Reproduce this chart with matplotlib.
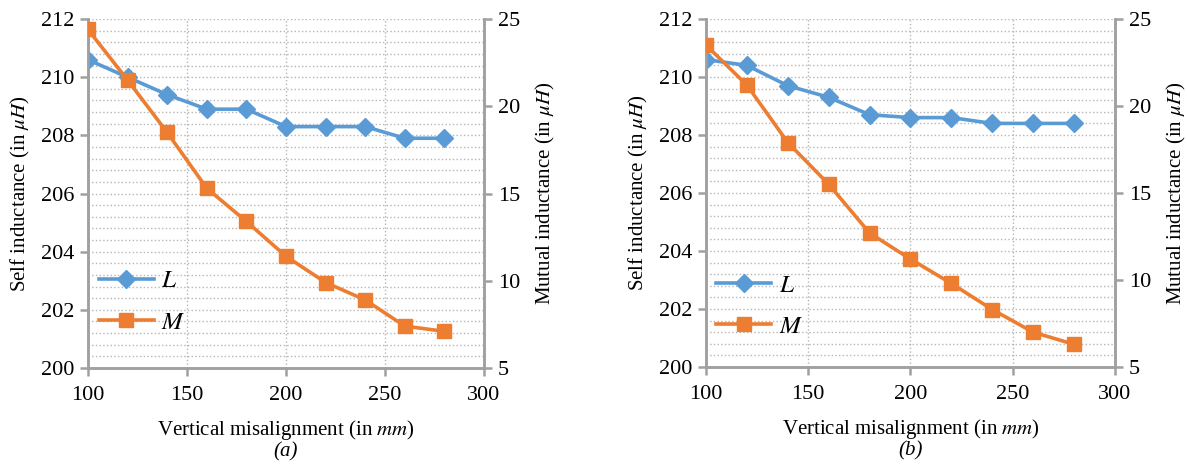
import numpy as np
import matplotlib
matplotlib.use("Agg")
from matplotlib import pyplot as plt
from matplotlib.ticker import MultipleLocator

plt.rcParams["font.family"] = ["Liberation Serif", "DejaVu Serif"]
plt.rcParams["mathtext.fontset"] = "stix"

# Vertical misalignment (mm)
misalign = [100, 120, 140, 160, 180, 200, 220, 240, 260, 280]

# panel (a)
L_a = [210.6, 210.0, 209.4, 208.9, 208.9, 208.3, 208.3, 208.3, 207.9, 207.9]
M_a = [24.4, 21.5, 18.5, 15.3, 13.4, 11.4, 9.9, 8.9, 7.4, 7.1]

# panel (b)
L_b = [210.6, 210.4, 209.7, 209.3, 208.7, 208.6, 208.6, 208.4, 208.4, 208.4]
M_b = [23.5, 21.2, 17.9, 15.5, 12.7, 11.2, 9.8, 8.3, 7.0, 6.3]

panel_labels = ["(a)", "(b)"]

BLUE = "#5B9BD5"
ORANGE = "#ED7D31"
SPINE = "#A0A0A0"
GRID = "#B5B5B5"
FS = 16


def draw_panel(ax, L, M, tag, legend_y):
    ax2 = ax.twinx()

    ax.set_xlim(100, 300)
    ax.set_ylim(200, 212)
    ax2.set_ylim(5, 25)

    ax.xaxis.set_major_locator(MultipleLocator(50))
    ax.yaxis.set_major_locator(MultipleLocator(2))
    ax.yaxis.set_minor_locator(MultipleLocator(0.4))
    ax2.yaxis.set_major_locator(MultipleLocator(5))

    # dotted grid
    ax.grid(True, axis="x", which="major", linestyle=":", color=GRID, linewidth=1.0)
    ax.grid(True, axis="y", which="both", linestyle=":", color=GRID, linewidth=1.0)
    ax.set_axisbelow(True)

    lL, = ax.plot(misalign, L, color=BLUE, marker="D", markersize=9, linewidth=2.6, label="$L$", zorder=3)
    lM, = ax2.plot(misalign, M, color=ORANGE, marker="s", markersize=10, linewidth=2.6, label="$M$", zorder=3)

    for a in (ax, ax2):
        a.spines["top"].set_visible(False)
        for s in ("left", "right", "bottom"):
            a.spines[s].set_color(SPINE)
            a.spines[s].set_linewidth(1.8)
        a.tick_params(which="major", length=6, width=1.8, color=SPINE, labelsize=FS, pad=4)
        a.tick_params(which="minor", length=0)
    ax.tick_params(axis="x", pad=7)

    ax.set_ylabel(r"Self inductance (in $\mu H$)", fontsize=FS - 1, labelpad=6)
    ax2.set_ylabel(r"Mutual inductance (in $\mu H$)", fontsize=FS - 1, labelpad=10)
    ax.set_xlabel(r"Vertical misalignment (in $mm$)", fontsize=FS - 1, labelpad=9)
    ax.text(0.5, -0.24, tag, transform=ax.transAxes, ha="center", va="center",
            fontsize=FS - 1, style="italic")

    leg = ax.legend(handles=[lL, lM], loc="center left", bbox_to_anchor=(-0.03, legend_y),
                    frameon=False, fontsize=FS + 2, handlelength=2.2, handletextpad=0.3,
                    labelspacing=0.75)
    leg.set_zorder(5)


fig = plt.figure(figsize=(11.87, 4.65), dpi=100)
ax_a = fig.add_axes([0.0741, 0.2086, 0.3337, 0.7505])
ax_b = fig.add_axes([0.5948, 0.2108, 0.3445, 0.7483])

draw_panel(ax_a, L_a, M_a, panel_labels[0], 0.19)
draw_panel(ax_b, L_b, M_b, panel_labels[1], 0.175)

fig.savefig("out.png", dpi=100)
